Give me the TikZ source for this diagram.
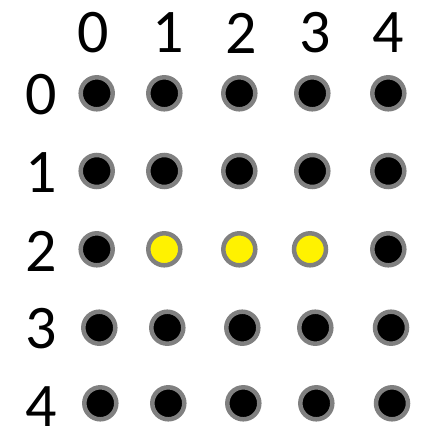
\documentclass[tikz,border=0pt]{standalone}
\usepackage{fontspec}
\setmainfont{Carlito}
\definecolor{dotgray}{RGB}{128,128,128}
\definecolor{dotyellow}{RGB}{255,242,0}
\begin{document}
\begin{tikzpicture}[x=1pt,y=-1pt,
  dot/.style={circle,draw=dotgray,fill=black,line width=4.5pt,minimum size=32pt,inner sep=0pt},
  lit/.style={dot,fill=dotyellow},
  lbl/.style={inner sep=0pt,font=\fontsize{62}{70}\selectfont}]
\useasboundingbox (0,0) rectangle (435,443);
% column labels
\node[lbl] (c0) at (93.3,33) {0};
\node[lbl] (c1) at (168,33) {1};
\node[lbl] (c2) at (241.7,33) {2};
\node[lbl] (c3) at (315,33) {3};
\node[lbl] (c4) at (388.3,33) {4};
% row labels
\node[lbl] (r0) at (41.7,95) {0};
\node[lbl] (r1) at (41.7,173) {1};
\node[lbl] (r2) at (41.7,251.5) {2};
\node[lbl] (r3) at (41.7,329) {3};
\node[lbl] (r4) at (41.7,407) {4};
% row 0
\node[dot] (d00) at (96.7,93.3) {};
\node[dot] (d01) at (164.3,93.3) {};
\node[dot] (d02) at (239.3,93.3) {};
\node[dot] (d03) at (312.3,93.3) {};
\node[dot] (d04) at (388.3,93.3) {};
% row 1
\node[dot] (d10) at (96.7,171) {};
\node[dot] (d11) at (164.3,171) {};
\node[dot] (d12) at (239.3,171) {};
\node[dot] (d13) at (312.3,171) {};
\node[dot] (d14) at (388.3,171) {};
% row 2
\node[dot] (d20) at (96.7,249.3) {};
\node[lit] (d21) at (164.3,249.3) {};
\node[lit] (d22) at (239.3,249.3) {};
\node[lit] (d23) at (310,249.3) {};
\node[dot] (d24) at (388.3,249.3) {};
% row 3
\node[dot] (d30) at (99.3,327.7) {};
\node[dot] (d31) at (167.3,327.7) {};
\node[dot] (d32) at (242.3,327.7) {};
\node[dot] (d33) at (315.3,327.7) {};
\node[dot] (d34) at (391,327.7) {};
% row 4
\node[dot] (d40) at (100.3,403.3) {};
\node[dot] (d41) at (168.3,403.3) {};
\node[dot] (d42) at (243.3,403.3) {};
\node[dot] (d43) at (316.3,403.3) {};
\node[dot] (d44) at (392,403.3) {};
\end{tikzpicture}
\end{document}
